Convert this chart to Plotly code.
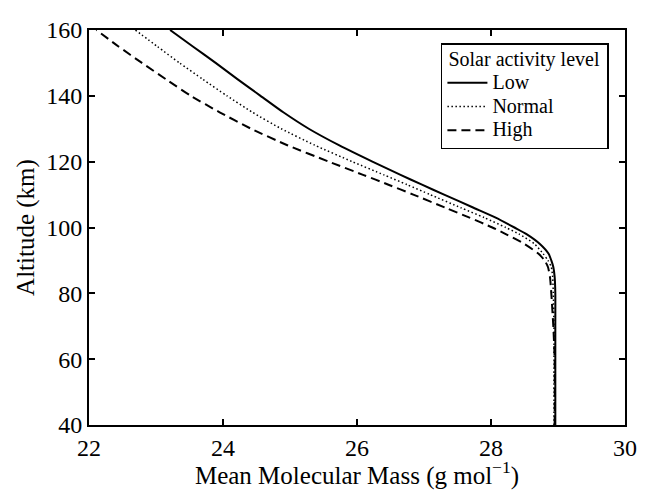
import plotly.graph_objects as go

altitude = [40, 60, 70, 80, 85, 88, 90, 92, 95, 98, 100, 103, 106, 110, 113, 116,
            120, 125, 130, 135, 140, 145, 150, 155, 160]
mass_low = [28.96, 28.96, 28.96, 28.96, 28.95, 28.93, 28.90, 28.86, 28.73, 28.53, 28.35,
            28.07, 27.74, 27.30, 26.97, 26.65, 26.23, 25.73, 25.28, 24.90, 24.56, 24.22,
            23.89, 23.55, 23.21]
mass_normal = [28.94, 28.94, 28.94, 28.93, 28.92, 28.90, 28.85, 28.78, 28.65, 28.42, 28.22,
               27.90, 27.55, 27.09, 26.75, 26.40, 25.93, 25.37, 24.87, 24.44, 24.06, 23.70,
               23.35, 23.02, 22.69]
mass_high = [28.95, 28.95, 28.93, 28.90, 28.88, 28.85, 28.80, 28.71, 28.50, 28.22, 28.02,
             27.68, 27.32, 26.84, 26.47, 26.09, 25.58, 24.96, 24.42, 23.95, 23.52, 23.15,
             22.79, 22.44, 22.11]
series_names = ["Low", "Normal", "High"]
legend_title = "Solar activity level"

styles = [
    dict(color="black", width=2, dash="solid"),
    dict(color="black", width=1.5, dash="1.5px,2.5px"),
    dict(color="black", width=2, dash="9px,5px"),
]

FONT = "Liberation Serif"


def big(t, lead=""):
    return lead + '<span style="font-size:20px">' + t + "</span>"


fig = go.Figure()
for name, xs, line in zip(series_names, [mass_low, mass_normal, mass_high], styles):
    fig.add_trace(go.Scatter(x=xs, y=altitude, mode="lines", name=big(name),
                             line=dict(shape="spline", smoothing=0.6, **line)))

axis_common = dict(
    showline=True, linecolor="black", linewidth=2, mirror="ticks",
    ticks="inside", ticklen=6, tickwidth=1.5, tickcolor="black",
    showgrid=False, zeroline=False, ticklabeloverflow="allow",
    tickfont=dict(family=FONT, size=24, color="black"),
)

fig.update_layout(
    width=638, height=482,
    margin=dict(l=81, r=21, t=9, b=58),
    paper_bgcolor="white", plot_bgcolor="white",
    font=dict(family=FONT, color="black"),
    xaxis=dict(range=[22, 30], tickvals=[22, 24, 26, 28, 30],
               title=dict(text="Mean Molecular Mass (g mol<sup>−1</sup>)",
                          font=dict(family=FONT, size=25), standoff=3),
               **axis_common),
    yaxis=dict(range=[40, 160], tickvals=[40, 60, 80, 100, 120, 140, 160],
               title=dict(text="Altitude (km)", font=dict(family=FONT, size=25),
                          standoff=4),
               **axis_common),
    legend=dict(
        title=dict(text=big(legend_title + "&nbsp;", "&nbsp;"),
                   font=dict(family=FONT, size=16)),
        font=dict(family=FONT, size=16, color="black"),
        x=0.970, xanchor="right", y=0.966, yanchor="top",
        bordercolor="black", borderwidth=1.5, bgcolor="white",
        tracegroupgap=0, itemwidth=40,
    ),
    showlegend=True,
)

fig.write_html("out.html")
